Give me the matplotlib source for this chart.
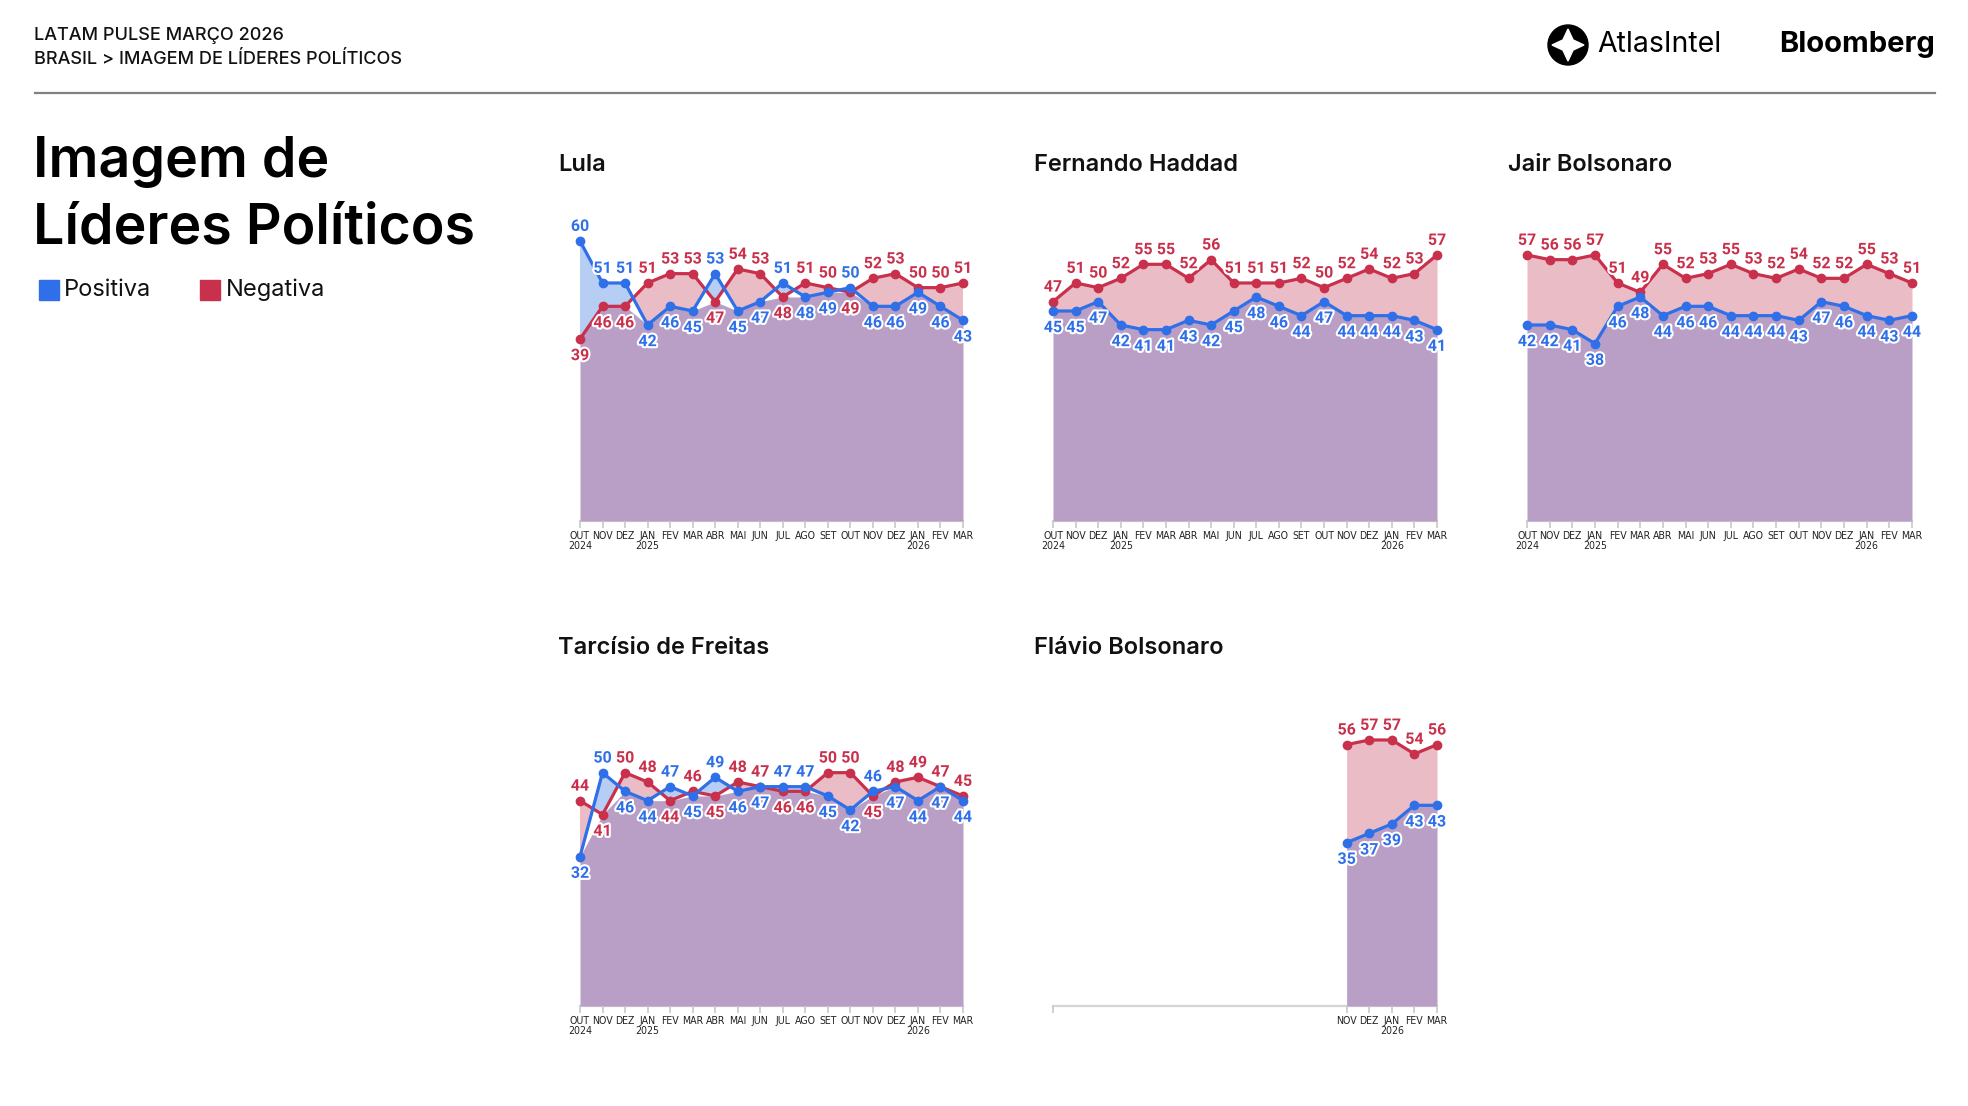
import numpy as np
import matplotlib
matplotlib.use("Agg")
import matplotlib.pyplot as plt
import matplotlib.patheffects as pe
from matplotlib.patches import Circle, Polygon, Rectangle

# ---------------- data ----------------
months = ['OUT\n2024', 'NOV', 'DEZ', 'JAN\n2025', 'FEV', 'MAR', 'ABR', 'MAI', 'JUN',
          'JUL', 'AGO', 'SET', 'OUT', 'NOV', 'DEZ', 'JAN\n2026', 'FEV', 'MAR']

lula_pos = [60, 51, 51, 42, 46, 45, 53, 45, 47, 51, 48, 49, 50, 46, 46, 49, 46, 43]
lula_neg = [39, 46, 46, 51, 53, 53, 47, 54, 53, 48, 51, 50, 49, 52, 53, 50, 50, 51]

haddad_pos = [45, 45, 47, 42, 41, 41, 43, 42, 45, 48, 46, 44, 47, 44, 44, 44, 43, 41]
haddad_neg = [47, 51, 50, 52, 55, 55, 52, 56, 51, 51, 51, 52, 50, 52, 54, 52, 53, 57]

jair_pos = [42, 42, 41, 38, 46, 48, 44, 46, 46, 44, 44, 44, 43, 47, 46, 44, 43, 44]
jair_neg = [57, 56, 56, 57, 51, 49, 55, 52, 53, 55, 53, 52, 54, 52, 52, 55, 53, 51]

tarcisio_pos = [32, 50, 46, 44, 47, 45, 49, 46, 47, 47, 47, 45, 42, 46, 47, 44, 47, 44]
tarcisio_neg = [44, 41, 50, 48, 44, 46, 45, 48, 47, 46, 46, 50, 50, 45, 48, 49, 47, 45]

flavio_months = ['NOV', 'DEZ', 'JAN\n2026', 'FEV', 'MAR']
flavio_pos = [35, 37, 39, 43, 43]
flavio_neg = [56, 57, 57, 54, 56]

# ---------------- style ----------------
BLUE = '#2f6fe8'
RED = '#c8304b'
LBLUE = '#b6cdf4'
PINK = '#eabcc6'
PURPLE = '#b99ec6'
TICKC = '#c8c8c8'

W, H = 1968, 1106
fig = plt.figure(figsize=(W / 100, H / 100), dpi=100)
fig.patch.set_facecolor('white')

def fx(x):
    return x / W

def fy(y):
    return 1 - y / H

HEAD = ['Inter', 'Lato', 'DejaVu Sans']
NUMF = ['Roboto', 'DejaVu Sans']
TICKF = ['DejaVu Sans']

# header
fig.text(fx(34), fy(35), 'LATAM PULSE MARÇO 2026', family=HEAD, fontsize=13,
         fontweight='medium', va='center', ha='left', color='#111111')
fig.text(fx(34), fy(60), 'BRASIL > IMAGEM DE LÍDERES POLÍTICOS', family=HEAD,
         fontsize=13, fontweight='medium', va='center', ha='left', color='#111111')
fig.add_artist(plt.Line2D([fx(35), fx(1935)], [fy(93), fy(93)], color='#808080',
                          lw=1.6, transform=fig.transFigure))

# main title
fig.text(fx(33), fy(177), 'Imagem de', family=HEAD, fontsize=40, fontweight='semibold',
         va='baseline', ha='left', color='black')
fig.text(fx(33), fy(243), 'Líderes Políticos', family=HEAD, fontsize=40,
         fontweight='semibold', va='baseline', ha='left', color='black')

# legend
fig.add_artist(Rectangle((fx(39), fy(300)), fx(20), 20 / H, color=BLUE,
                         transform=fig.transFigure))
fig.text(fx(64), fy(290), 'Positiva', family=HEAD, fontsize=17, va='center',
         ha='left', color='#111111')
fig.add_artist(Rectangle((fx(200), fy(300)), fx(20), 20 / H, color=RED,
                         transform=fig.transFigure))
fig.text(fx(226), fy(290), 'Negativa', family=HEAD, fontsize=17, va='center',
         ha='left', color='#111111')

# logos
lax = fig.add_axes([fx(1546), fy(67), fx(44), 44 / H])
lax.set_xlim(-1.1, 1.1)
lax.set_ylim(-1.1, 1.1)
lax.set_aspect('equal')
lax.axis('off')
lax.add_patch(Circle((0, 0), 1.0, color='black'))
star = []
for k in range(4):
    a = np.pi / 2 * k
    star.append((0.8 * np.cos(a), 0.8 * np.sin(a)))
    b = a + np.pi / 4
    star.append((0.36 * np.cos(b), 0.36 * np.sin(b)))
lax.add_patch(Polygon(star, closed=True, color='white'))
fig.text(fx(1597), fy(45), 'AtlasIntel', family=HEAD, fontsize=20.5, va='center',
         ha='left', color='black')
fig.text(fx(1935), fy(45), 'Bloomberg', family=HEAD, fontsize=21, fontweight='bold',
         va='center', ha='right', color='black')

PXU = 4.667  # pixels per unit
YMAX = 64


def panel(left_px, right_px, base_px, title, title_x, title_y, pos, neg, xs,
          ticks, ticklabels):
    height_px = YMAX * PXU
    ax = fig.add_axes([fx(left_px), fy(base_px), (right_px - left_px) / W, height_px / H])
    ax.set_xlim(0, 17)
    ax.set_ylim(0, YMAX)
    for s in ['top', 'right', 'left']:
        ax.spines[s].set_visible(False)
    ax.spines['bottom'].set_color('#d4d4d4')
    ax.spines['bottom'].set_linewidth(1.6)
    ax.spines['bottom'].set_zorder(0.5)
    ax.set_yticks([])
    ax.set_xticks(ticks)
    ax.set_xticklabels(ticklabels, family=TICKF, fontstretch='condensed', fontsize=7.6,
                       color='#222222', linespacing=1.0)
    ax.tick_params(axis='x', length=5, width=1.2, color=TICKC, pad=2)
    ax.patch.set_alpha(0)

    xs = np.asarray(xs, dtype=float)
    p = np.asarray(pos, dtype=float)
    n = np.asarray(neg, dtype=float)
    lo = np.minimum(p, n)
    ax.fill_between(xs, 0, lo, color=PURPLE, lw=0, zorder=1)
    ax.fill_between(xs, n, p, where=p >= n, interpolate=True, color=LBLUE, lw=0, zorder=1)
    ax.fill_between(xs, p, n, where=n >= p, interpolate=True, color=PINK, lw=0, zorder=1)
    ax.plot(xs, n, color=RED, lw=2.3, marker='o', ms=6, zorder=3, clip_on=False)
    ax.plot(xs, p, color=BLUE, lw=2.3, marker='o', ms=6, zorder=4, clip_on=False)

    stroke = [pe.withStroke(linewidth=3, foreground='white')]
    for xi, pv, nv in zip(xs, p, n):
        if pv > nv:
            up, upc, dn, dnc = pv, BLUE, nv, RED
        else:
            up, upc, dn, dnc = nv, RED, pv, BLUE
        ax.annotate(f'{int(up)}', (xi, up), xytext=(0, 10.5), textcoords='offset points',
                    ha='center', va='center', family=NUMF, fontsize=11.5,
                    fontweight='bold', color=upc, path_effects=stroke, zorder=6,
                    annotation_clip=False)
        ax.annotate(f'{int(dn)}', (xi, dn), xytext=(0, -12), textcoords='offset points',
                    ha='center', va='center', family=NUMF, fontsize=11.5,
                    fontweight='bold', color=dnc, path_effects=stroke, zorder=6,
                    annotation_clip=False)

    fig.text(fx(title_x), fy(title_y), title, family=HEAD, fontsize=17,
             fontweight='semibold', va='center', ha='left', color='#111111')
    return ax


full_x = list(range(len(months)))
full_ticks = list(range(len(months)))

panel(580, 963, 521, 'Lula', 558, 165, lula_pos, lula_neg, full_x, full_ticks, months)
panel(1053, 1437, 521, 'Fernando Haddad', 1034, 165, haddad_pos, haddad_neg, full_x,
      full_ticks, months)
panel(1527, 1912, 521, 'Jair Bolsonaro', 1508, 165, jair_pos, jair_neg, full_x,
      full_ticks, months)
panel(580, 963, 1006, 'Tarcísio de Freitas', 558, 648, tarcisio_pos, tarcisio_neg,
      full_x, full_ticks, months)

fl_x = list(range(len(months) - len(flavio_months), len(months)))
panel(1053, 1437, 1006, 'Flávio Bolsonaro', 1034, 648, flavio_pos, flavio_neg, fl_x,
      [0] + fl_x, [''] + flavio_months)

fig.savefig('out.png', dpi=100, facecolor='white')
